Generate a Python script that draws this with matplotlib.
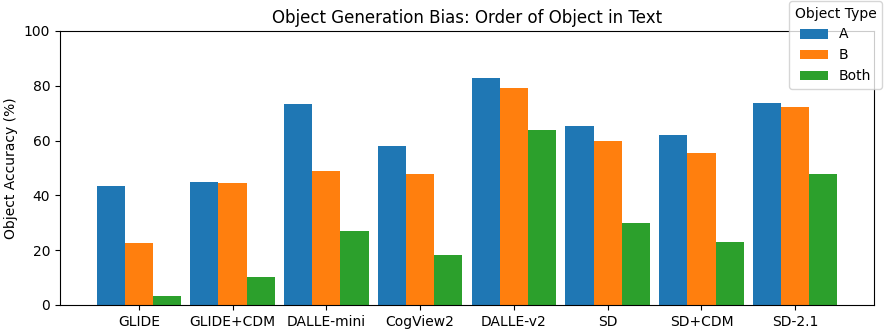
import numpy as np
import matplotlib.pyplot as plt

models = ["GLIDE", "GLIDE+CDM", "DALLE-mini", "CogView2", "DALLE-v2", "SD", "SD+CDM", "SD-2.1"]
acc_a = [43.4, 44.9, 73.4, 58.0, 82.8, 65.3, 62.0, 73.7]
acc_b = [22.6, 44.5, 48.9, 47.8, 79.2, 59.9, 55.5, 72.3]
acc_both = [3.3, 10.2, 27.0, 18.2, 63.9, 29.9, 23.0, 47.8]

series = [("A", acc_a, "#1f77b4"), ("B", acc_b, "#ff7f0e"), ("Both", acc_both, "#2ca02c")]

fig = plt.figure(figsize=(8.84, 3.34), dpi=100)
ax = fig.add_axes([60 / 884, 1 - 305 / 334, 814 / 884, 274 / 334])

x = np.arange(len(models))
w = 0.3
for i, (name, vals, col) in enumerate(series):
    ax.bar(x + (i - 1) * w, vals, w, label=name, color=col)

ax.set_xticks(x)
ax.set_xticklabels(models)
ax.set_xlim(-0.84, len(models) - 1 + 0.84)
ax.set_ylim(0, 100)
ax.set_ylabel("Object Accuracy (%)")
ax.set_title("Object Generation Bias: Order of Object in Text")
fig.legend(title="Object Type", loc="upper right", borderaxespad=0,
           bbox_to_anchor=(882 / 884, 1 - 1 / 334))

fig.savefig("out.png", dpi=100)
